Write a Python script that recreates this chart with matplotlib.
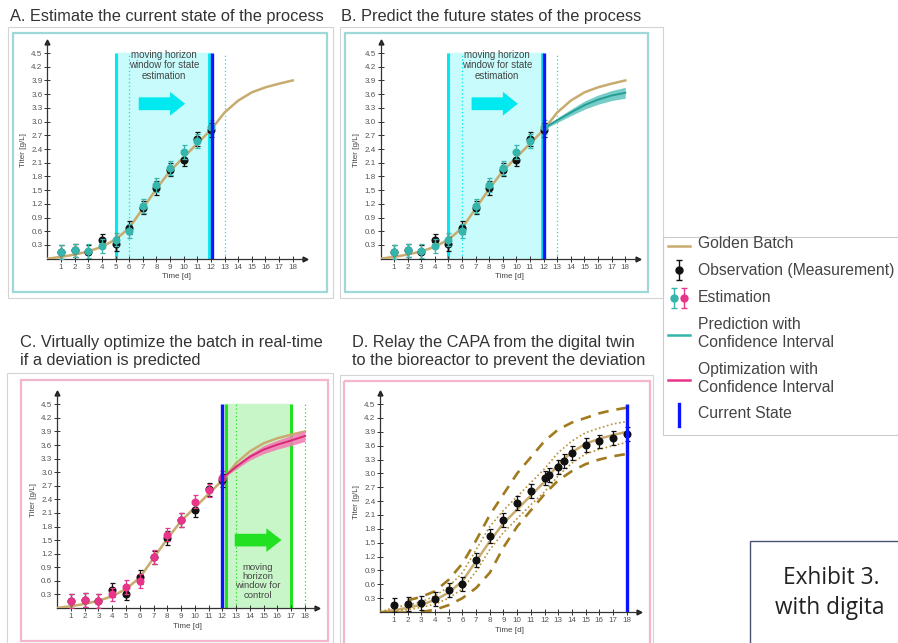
import numpy as np
import matplotlib
matplotlib.use("Agg")
import matplotlib.pyplot as plt
from matplotlib.patches import Rectangle, FancyArrow

plt.rcParams['font.family'] = ['Liberation Sans', 'DejaVu Sans']

# ---- data ----
days = list(range(0, 19))
golden = [0.0, 0.04, 0.09, 0.16, 0.26, 0.42, 0.67, 1.10, 1.53, 1.92, 2.22,
          2.52, 2.82, 3.20, 3.46, 3.64, 3.75, 3.83, 3.90]

obs_days = list(range(1, 13))
observed = [0.15, 0.18, 0.15, 0.40, 0.32, 0.68, 1.12, 1.55, 1.95, 2.17, 2.62, 2.82]
est_teal = [0.15, 0.18, 0.17, 0.28, 0.42, 0.60, 1.15, 1.62, 1.98, 2.33, 2.58, 2.88]
est_pink = [0.15, 0.18, 0.16, 0.30, 0.47, 0.60, 1.13, 1.62, 1.95, 2.35, 2.60, 2.88]
obs_err = 0.15

fut_days = list(range(12, 19))
pred_mean = [2.85, 3.03, 3.20, 3.36, 3.48, 3.57, 3.63]
pred_half = [0.02, 0.05, 0.07, 0.09, 0.10, 0.11, 0.12]
opt_mean = [2.87, 3.12, 3.34, 3.50, 3.61, 3.70, 3.80]
opt_half = [0.02, 0.05, 0.07, 0.09, 0.10, 0.11, 0.12]

d_days = [1, 2, 3, 4, 5, 6, 7, 8, 9, 10, 11, 12, 12.3, 13, 13.4, 14, 15, 16, 17, 18]
d_obs = [0.16, 0.17, 0.19, 0.29, 0.47, 0.61, 1.13, 1.64, 2.00, 2.36, 2.61, 2.90,
         2.96, 3.14, 3.27, 3.45, 3.62, 3.69, 3.77, 3.86]
dot_upper = [0.0, 0.10, 0.15, 0.22, 0.35, 0.55, 0.85, 1.35, 1.85, 2.20, 2.50,
             2.80, 3.10, 3.45, 3.70, 3.88, 3.98, 4.07, 4.12]
dot_lower = [0.0, 0.02, 0.05, 0.10, 0.17, 0.30, 0.50, 0.88, 1.35, 1.72, 2.02,
             2.32, 2.60, 2.95, 3.22, 3.42, 3.52, 3.60, 3.67]
dash_days = list(range(2, 19))
dash_upper = [0.25, 0.33, 0.45, 0.70, 1.05, 1.55, 2.10, 2.55, 3.00, 3.35, 3.70,
              3.95, 4.10, 4.20, 4.30, 4.37, 4.42]
dash_lower_days = list(range(3, 19))
dash_lower = [0.0, 0.05, 0.15, 0.30, 0.52, 0.85, 1.40, 1.85, 2.20, 2.55, 2.85,
              3.05, 3.20, 3.30, 3.37, 3.42]

yticks = [0.3, 0.6, 0.9, 1.2, 1.5, 1.8, 2.1, 2.4, 2.7, 3.0, 3.3, 3.6, 3.9, 4.2, 4.5]

GOLD = '#c8ab6e'
TEAL = '#35b5ac'
PINK = '#e8358a'
CYAN = '#00e8f0'
BLUE = '#0a14ff'
GREEN = '#22e022'

W, H = 898, 643
fig = plt.figure(figsize=(W / 100, H / 100), dpi=100)


def px_axes(x0, x1, y_bottom, y_top):
    return fig.add_axes([x0 / W, 1 - y_bottom / H, (x1 - x0) / W, (y_bottom - y_top) / H])


def setup(ax):
    ax.set_xlim(0, 18.9)
    ax.set_ylim(0, 4.75)
    ax.patch.set_alpha(0)
    for s in ['top', 'right']:
        ax.spines[s].set_visible(False)
    for s in ['left', 'bottom']:
        ax.spines[s].set_color('#333333')
        ax.spines[s].set_linewidth(0.9)
    ax.set_xticks(range(1, 19))
    ax.set_yticks(yticks)
    ax.set_yticklabels([f'{v:.1f}' for v in yticks])
    ax.tick_params(direction='inout', length=5, width=0.7, labelsize=5.8,
                   color='#333333', labelcolor='#555555', pad=1)
    ax.plot(1, 0, '>', color='#222222', ms=3.5, transform=ax.get_yaxis_transform(), clip_on=False)
    ax.plot(0, 1, '^', color='#222222', ms=3.5, transform=ax.get_xaxis_transform(), clip_on=False)
    ax.set_xlabel('Time [d]', fontsize=5.8, color='#444444', labelpad=2)
    ax.set_ylabel('Titer [g/L]', fontsize=5.8, color='#444444', labelpad=3)


def points(ax, x, y, color, zorder=5):
    ax.errorbar(x, y, yerr=obs_err, fmt='o', color=color, ms=4.8, elinewidth=0.9,
                capsize=1.8, capthick=0.9, zorder=zorder)


def state_window(ax):
    ax.fill_between([5, 12], 0, 4.5, color='#c8fbfb', zorder=0)
    ax.vlines(5, 0, 4.5, color=CYAN, lw=2.2, zorder=1)
    ax.vlines([6, 13], 0, 4.5, color=CYAN, lw=0.9, linestyles=(0, (1, 2)), zorder=1)
    ax.vlines(11.85, 0, 4.5, color=CYAN, lw=2, zorder=1)
    ax.vlines(12.05, 0, 4.5, color=BLUE, lw=2.4, zorder=6)
    ax.text(8.55, 4.57, 'moving horizon\nwindow for state\nestimation', ha='center', va='top',
            fontsize=7, color='#444444', linespacing=1.05)
    ax.add_patch(FancyArrow(6.7, 3.39, 2.3, 0, width=0.28, head_width=0.52, head_length=1.1,
                            length_includes_head=False, color=CYAN, lw=0, zorder=2))


# ---- Panel A ----
axA = px_axes(47.4, 305, 258.7, 41.6)
setup(axA)
state_window(axA)
axA.plot(days, golden, color=GOLD, lw=1.8, zorder=3)
points(axA, obs_days, observed, '#111111', 4)
points(axA, obs_days, est_teal, TEAL, 5)

# ---- Panel B ----
axB = px_axes(380.5, 637.5, 258.7, 41.6)
setup(axB)
state_window(axB)
axB.plot(days, golden, color=GOLD, lw=1.8, zorder=3)
lo = [m - h for m, h in zip(pred_mean, pred_half)]
hi = [m + h for m, h in zip(pred_mean, pred_half)]
axB.fill_between(fut_days, lo, hi, color='#5ec5bd', alpha=0.85, lw=0, zorder=3)
axB.plot(fut_days, pred_mean, color='#259e96', lw=1.4, zorder=4)
points(axB, obs_days, observed, '#111111', 4)
points(axB, obs_days, est_teal, TEAL, 5)

# ---- Panel C ----
axC = px_axes(57.2, 317.3, 608, 393)
setup(axC)
axC.fill_between([12.15, 17], 0, 4.5, color='#c9f6c9', zorder=0)
axC.vlines([12.25, 17], 0, 4.5, color=GREEN, lw=2.2, zorder=1)
axC.vlines([13, 18], 0, 4.5, color=GREEN, lw=0.9, linestyles=(0, (1, 2)), zorder=1)
axC.vlines(12.0, 0, 4.5, color=BLUE, lw=2.4, zorder=6)
axC.add_patch(FancyArrow(12.9, 1.5, 2.3, 0, width=0.28, head_width=0.52, head_length=1.1,
                         color=GREEN, lw=0, zorder=2))
axC.text(14.55, 1.0, 'moving\nhorizon\nwindow for\ncontrol', ha='center', va='top',
         fontsize=6.8, color='#444444', linespacing=1.05)
axC.plot(days, golden, color=GOLD, lw=1.8, zorder=3)
lo = [m - h for m, h in zip(opt_mean, opt_half)]
hi = [m + h for m, h in zip(opt_mean, opt_half)]
axC.fill_between(fut_days, lo, hi, color='#f27fb4', alpha=0.9, lw=0, zorder=3)
axC.plot(fut_days, opt_mean, color='#d62a76', lw=1.4, zorder=4)
points(axC, obs_days, observed, '#111111', 4)
points(axC, obs_days, est_pink, PINK, 5)

# ---- Panel D ----
axD = px_axes(380.3, 639, 612, 392.5)
setup(axD)
axD.plot(days, golden, color=GOLD, lw=1.8, zorder=3)
axD.plot(days, dot_upper, color='#b8923a', lw=1.2, ls=(0, (1, 1.5)), zorder=3)
axD.plot(days, dot_lower, color='#b8923a', lw=1.2, ls=(0, (1, 1.5)), zorder=3)
axD.plot(dash_days, dash_upper, color='#a27a1e', lw=1.9, ls=(0, (4, 3)), zorder=3)
axD.plot(dash_lower_days, dash_lower, color='#a27a1e', lw=1.9, ls=(0, (4, 3)), zorder=3)
axD.plot([0, 2], [0, 0], color='#a27a1e', lw=1.9, zorder=3)
points(axD, d_days, d_obs, '#111111', 5)
axD.vlines(18, 0, 4.5, color=BLUE, lw=2.4, zorder=6)

# ---- overlay: frames, titles, legend ----
ov = fig.add_axes([0, 0, 1, 1], zorder=-1)
ov.set_xlim(0, W)
ov.set_ylim(H, 0)
ov.axis('off')


def box(x0, y0, x1, y1, color, lw):
    ov.add_patch(Rectangle((x0, y0), x1 - x0, y1 - y0, fill=False, ec=color, lw=lw))


box(8, 27, 333, 298, '#d4d4d4', 0.8)
box(12.5, 33, 327, 292, '#9ed8d8', 1.6)
box(340, 27, 663, 298, '#d4d4d4', 0.8)
box(344.5, 33, 648, 292, '#9ed8d8', 1.6)
box(7, 373, 333, 646, '#d4d4d4', 0.8)
box(20.5, 380, 328, 641, '#f2b6cf', 1.6)
box(340, 375, 653, 646, '#d4d4d4', 0.8)
box(343.5, 380.5, 650, 646, '#f2b6cf', 1.6)

title_kw = dict(fontsize=11.8, color='#333333', va='center', ha='left')
ov.text(10, 17, 'A. Estimate the current state of the process', **title_kw)
ov.text(341, 17, 'B. Predict the future states of the process', **title_kw)
ov.text(20, 351.5, 'C. Virtually optimize the batch in real-time\nif a deviation is predicted',
        linespacing=1.25, **title_kw)
ov.text(352, 351.5, 'D. Relay the CAPA from the digital twin\nto the bioreactor to prevent the deviation',
        linespacing=1.25, **title_kw)

# legend
box(663, 237, 905, 435, '#cccccc', 0.8)
leg_kw = dict(fontsize=11.3, color='#444444', va='center', ha='left')
ov.plot([668, 690], [246, 246], color=GOLD, lw=1.8)
ov.text(698, 244, 'Golden Batch', **leg_kw)
ov.errorbar([679], [270], yerr=10, fmt='o', color='#111111', ms=5, elinewidth=1,
            capsize=2, capthick=1)
ov.text(698, 270, 'Observation (Measurement)', **leg_kw)
ov.errorbar([674], [298], yerr=10, fmt='o', color=TEAL, ms=5, elinewidth=1, capsize=2, capthick=1)
ov.errorbar([684], [298], yerr=10, fmt='o', color=PINK, ms=5, elinewidth=1, capsize=2, capthick=1)
ov.text(698, 297, 'Estimation', **leg_kw)
ov.plot([668, 690], [335, 335], color=TEAL, lw=1.8)
ov.text(698, 333.5, 'Prediction with\nConfidence Interval', linespacing=1.3, **leg_kw)
ov.plot([668, 690], [380, 380], color=PINK, lw=1.8)
ov.text(698, 378.5, 'Optimization with\nConfidence Interval', linespacing=1.3, **leg_kw)
ov.plot([679, 679], [404, 426], color=BLUE, lw=2.4)
ov.text(698, 414, 'Current State', **leg_kw)

# exhibit caption box
box(750, 541, 905, 648, '#4a5670', 1.0)
ov.text(783, 578, 'Exhibit 3.', fontsize=16.3, color='#222222', va='center', ha='left',
        family=['Open Sans', 'DejaVu Sans'])
ov.text(775, 608, 'with digita', fontsize=16.3, color='#222222', va='center', ha='left',
        family=['Open Sans', 'DejaVu Sans'])

fig.savefig('out.png', dpi=100)
